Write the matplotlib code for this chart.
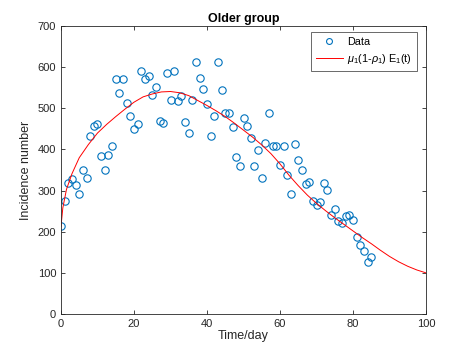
import numpy as np
import matplotlib
matplotlib.use('Agg')
import matplotlib.pyplot as plt

# observed daily incidence, t = 0..85
days = list(range(86))
cases = [213, 274, 319, 329, 313, 291, 349, 330, 434, 456,
         463, 385, 349, 387, 408, 571, 537, 571, 513, 481,
         451, 461, 591, 572, 578, 532, 552, 469, 464, 585,
         521, 591, 518, 529, 467, 441, 520, 612, 574, 547,
         511, 434, 481, 612, 544, 488, 489, 455, 381, 359,
         477, 457, 429, 360, 399, 330, 417, 488, 409, 409,
         362, 409, 338, 291, 413, 374, 350, 316, 320, 275,
         265, 273, 319, 302, 241, 255, 227, 221, 239, 240,
         228, 187, 168, 152, 126, 139]

# fitted model curve mu1 (1-rho1) E1(t)
fit_t = [0, 0.5, 1.5, 3, 5, 7.5, 10, 12.5, 15, 17.5, 20, 22.5, 25, 27.5,
         30, 32.5, 35, 37.5, 40, 42.5, 45, 47.5, 50, 52.5, 55, 57.5, 60,
         62.5, 65, 67.5, 70, 72.5, 75, 77.5, 80, 82.5, 85, 87.5, 90, 92.5,
         95, 97.5, 100]
fit_y = [213, 258, 303, 341, 380, 412, 440, 461, 480, 498, 515, 528, 535, 540,
         541, 538, 531, 519, 507, 494, 480, 464, 447, 430, 411, 390, 365,
         337, 312, 289, 269, 251, 234, 218, 202, 186, 171, 155, 140, 127,
         116, 107, 100]

plt.rcParams['font.family'] = ['Liberation Sans', 'DejaVu Sans']
plt.rcParams['mathtext.fontset'] = 'custom'
plt.rcParams['mathtext.rm'] = 'Liberation Sans'
plt.rcParams['mathtext.it'] = 'Liberation Sans:italic'

fig = plt.figure(figsize=(4.71, 3.53), dpi=100)
ax = fig.add_axes([0.1295, 0.1105, 0.775, 0.8155])

axcol = '#262626'
ax.plot(days, cases, 'o', mfc='none', mec='#0072BD', ms=5.3, mew=0.8, label='Data')
ax.plot(fit_t, fit_y, '-', color='#FF0000', lw=0.7,
        label=r'$\mu_1$(1-$\rho_1$) E$_1$(t)')

ax.set_xlim(0, 100)
ax.set_ylim(0, 700)
ax.set_xticks(np.arange(0, 101, 20))
ax.set_yticks(np.arange(0, 701, 100))
ax.tick_params(direction='in', top=True, right=True, length=3, width=0.6,
               labelsize=8, colors=axcol)
for s in ax.spines.values():
    s.set_linewidth(0.6)
    s.set_color(axcol)

ax.set_xlabel('Time/day', fontsize=9, color=axcol, labelpad=1)
ax.set_ylabel('Incidence number', fontsize=9, color=axcol, labelpad=4)
ax.set_title('Older group', fontsize=9, fontweight='bold', color='black', pad=3)

leg = ax.legend(loc='upper right', bbox_to_anchor=(417/471, 1 - 32/353),
                bbox_transform=fig.transFigure, fontsize=7.8, frameon=True,
                fancybox=False, borderpad=0.45, handlelength=2.5,
                handletextpad=0.4, labelspacing=0.45, borderaxespad=0,
                markerscale=0.8)
leg.get_frame().set_edgecolor(axcol)
leg.get_frame().set_linewidth(0.6)

fig.savefig('out.png', dpi=100)
